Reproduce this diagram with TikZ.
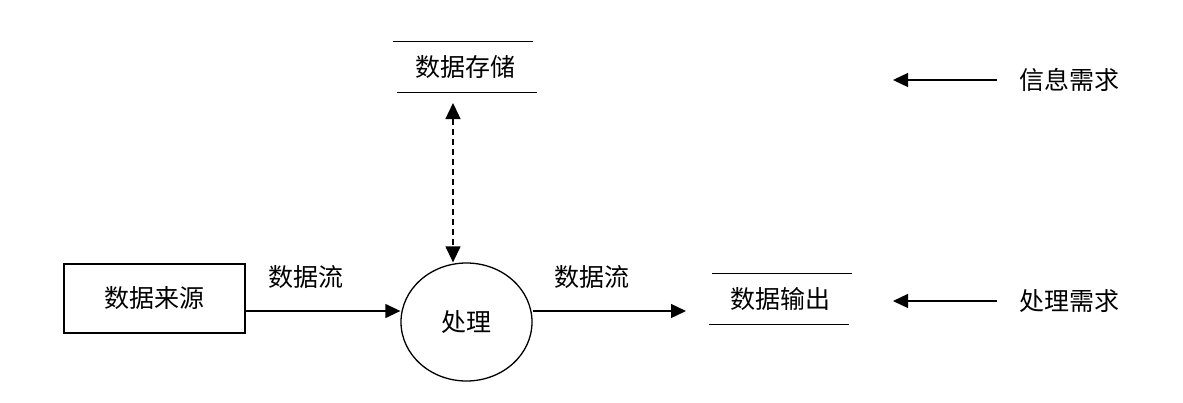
\documentclass[tikz,border=0pt]{standalone}
\usepackage{fontspec}
\newfontfamily\cjk{Noto Sans CJK SC}
\usetikzlibrary{arrows.meta,shapes.geometric}
\begin{document}
\begin{tikzpicture}[x=1pt,y=-1pt,
  lbl/.style={font=\cjk\fontsize{25}{27}\selectfont, inner sep=0pt},
  ln/.style={line width=1.3pt},
  arr/.style={line width=1.3pt, -{Triangle[length=15pt,width=14pt]}},
  darr/.style={line width=1.3pt, dash pattern=on 6pt off 4pt,
    {Triangle[length=16pt,width=15pt]}-{Triangle[length=16pt,width=15pt]}}]
\useasboundingbox[fill=white] (0,0) rectangle (1183,402);
% source box
\node[lbl, draw, ln, minimum width=181pt, minimum height=69pt] (src) at (154.5,298.5) {数据来源};
% process
\node[lbl, draw, ln, ellipse, minimum width=131pt, minimum height=118pt] (proc) at (466.5,322) {处理};
% storage
\node[lbl, minimum width=140pt, minimum height=50pt] (store) at (465,67) {数据存储};
\draw[ln] ([xshift=-2pt]store.north west) -- ([xshift=-2pt]store.north east);
\draw[ln] ([xshift=2pt]store.south west) -- ([xshift=2pt]store.south east);
% output
\node[lbl, minimum width=140pt, minimum height=50pt] (out) at (780.5,299) {数据输出};
\draw[ln] ([xshift=1.5pt]out.north west) -- ([xshift=1.5pt]out.north east);
\draw[ln] ([xshift=-1.5pt]out.south west) -- ([xshift=-1.5pt]out.south east);
% flows
\coordinate (fl) at (0,311);
\draw[arr] (src.east |- fl) -- (proc.west |- fl);
\coordinate (outtip) at (686,311);
\draw[arr] (proc.east |- fl) -- (outtip);
\node[lbl] (f1) at (306,277) {数据流};
\node[lbl] (f2) at (592,277) {数据流};
% storage link
\coordinate (st) at (453,103);
\draw[darr] (st) -- (st |- proc.north);
% requirements
\node[lbl, anchor=west] (info) at (1019,80) {信息需求};
\coordinate (infotip) at (893,80);
\draw[arr] ([xshift=-22pt]info.west) -- (infotip);
\node[lbl, anchor=west] (preq) at (1019,301) {处理需求};
\coordinate (preqtip) at (893,301);
\draw[arr] ([xshift=-22pt]preq.west) -- (preqtip);
\end{tikzpicture}
\end{document}
